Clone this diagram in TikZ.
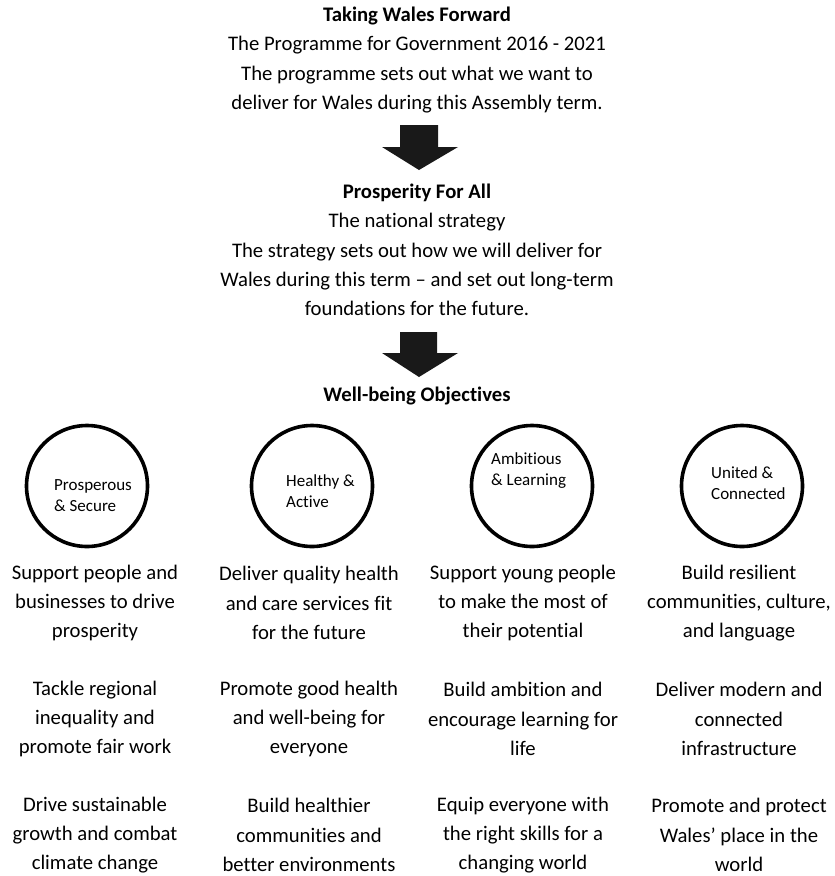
\documentclass[tikz,border=0pt]{standalone}
\usepackage{fontspec}
\setmainfont[Ligatures=NoCommon]{Carlito}
\begin{document}
\begin{tikzpicture}[x=1pt,y=-1pt,
  txt/.style={inner sep=0pt,align=center,font=\fontsize{20.7}{29.2}\selectfont},
  ctxt/.style={inner sep=0pt,align=left,anchor=west,font=\fontsize{17}{21}\selectfont},
  ring/.style={draw=black,line width=3.6pt,circle,minimum size=121pt,inner sep=0pt},
  blockarrow/.style={fill=black!90!white,draw=none}]
\useasboundingbox (0,0) rectangle (835,876);
% top blocks
\node[txt] (t1) at (417,60) {\textbf{Taking Wales Forward}\\The Programme for Government 2016 - 2021\\The programme sets out what we want to\\deliver for Wales during this Assembly term.};
\node[txt] (t2) at (417,250) {\textbf{Prosperity For All}\\The national strategy\\The strategy sets out how we will deliver for\\Wales during this term -- and set out long-term\\foundations for the future.};
\node[txt] (t3) at (417,396) {\textbf{Well-being Objectives}};
% block arrows
\fill[blockarrow] (400,125) -- (438,125) -- (438,147) -- (458,147) -- (419,170) -- (382,147) -- (400,147) -- cycle;
\fill[blockarrow] (400,332) -- (437,332) -- (437,353) -- (458,353) -- (419,377) -- (382,353) -- (400,353) -- cycle;
% circles
\node[ring] (c1) at (87,486) {};
\node[ring] (c2) at (312,486) {};
\node[ring] (c3) at (532,486) {};
\node[ring] (c4) at (742,486) {};
\node[ctxt] (l1) at (54,496) {Prosperous\\\& Secure};
\node[ctxt] (l2) at (286,491) {Healthy \&\\Active};
\node[ctxt] (l3) at (491,471) {Ambitious\\\& Learning};
\node[ctxt] (l4) at (711,483) {United \&\\Connected};
% objective texts
\node[txt] (a1) at (95,603) {Support people and\\businesses to drive\\prosperity};
\node[txt] (a2) at (95,719) {Tackle regional\\inequality and\\promote fair work};
\node[txt] (a3) at (95,835) {Drive sustainable\\growth and combat\\climate change};
\node[txt] (b1) at (309,603) {Deliver quality health\\and care services fit\\for the future};
\node[txt] (b2) at (309,719) {Promote good health\\and well-being for\\everyone};
\node[txt] (b3) at (309,835) {Build healthier\\communities and\\better environments};
\node[txt] (d1) at (523,603) {Support young people\\to make the most of\\their potential};
\node[txt] (d2) at (523,719) {Build ambition and\\encourage learning for\\life};
\node[txt] (d3) at (523,835) {Equip everyone with\\the right skills for a\\changing world};
\node[txt] (e1) at (739,603) {Build resilient\\communities, culture,\\and language};
\node[txt] (e2) at (739,719) {Deliver modern and\\connected\\infrastructure};
\node[txt] (e3) at (739,835) {Promote and protect\\Wales' place in the\\world};
\end{tikzpicture}
\end{document}
